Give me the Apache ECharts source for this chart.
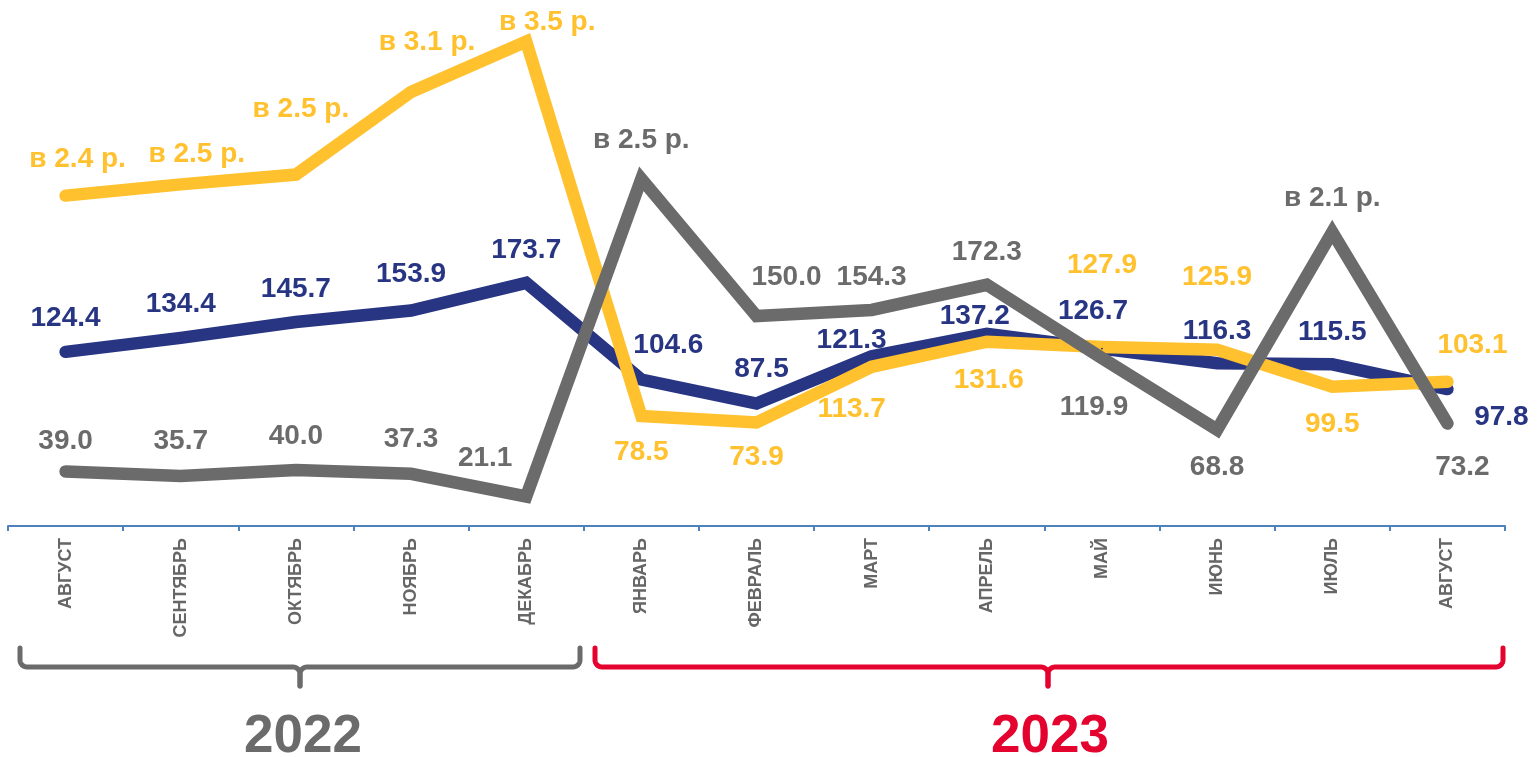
<!DOCTYPE html>
<html>
<head>
<meta charset="utf-8">
<script src="https://cdn.jsdelivr.net/npm/echarts@6/dist/echarts.min.js"></script>
<style>
  html, body { margin: 0; padding: 0; background: #fff; }
  #chart { width: 1539px; height: 757px; }
</style>
</head>
<body>
<div id="chart"></div>
<script>
// months (Aug 2022 - Aug 2023)
const months = ['АВГУСТ', 'СЕНТЯБРЬ', 'ОКТЯБРЬ', 'НОЯБРЬ', 'ДЕКАБРЬ', 'ЯНВАРЬ', 'ФЕВРАЛЬ',
  'МАРТ', 'АПРЕЛЬ', 'МАЙ', 'ИЮНЬ', 'ИЮЛЬ', 'АВГУСТ'];

const navyValues = [124.4, 134.4, 145.7, 153.9, 173.7, 104.6, 87.5, 121.3, 137.2, 126.7, 116.3, 115.5, 97.8];
const yellowValues = [236, 244, 251, 310, 346, 78.5, 73.9, 113.7, 131.6, 127.9, 125.9, 99.5, 103.1];
const grayValues = [39.0, 35.7, 40.0, 37.3, 21.1, 248, 150.0, 154.3, 172.3, 119.9, 68.8, 210, 73.2];

// text labels that replace the number
const yellowText = ['в 2.4 р.', 'в 2.5 р.', 'в 2.5 р.', 'в 3.1 р.', 'в 3.5 р.', null, null, null, null, null, null, null, null];
const grayText = [null, null, null, null, null, 'в 2.5 р.', null, null, null, null, null, 'в 2.1 р.', null];

// label offsets from the point (px)
const navyOff = [[0,-34],[0,-34],[0,-33],[0,-36],[0,-33],[27,-34],[5,-34],[-20,-16],[-12,-18],[-9,-37],[0,-32],[0,-32],[54,28]];
const yellowOff = [[12,-36],[16,-30],[5,-65],[16,-50],[21,-19],[0,36],[0,35],[-20,42],[2,39],[0,-82],[0,-72],[0,38],[25,-36]];
const grayOff = [[0,-30],[0,-35],[0,-34],[0,-34],[-41,-38],[0,-39],[30,-39],[0,-33],[0,-32],[-8,49],[0,38],[0,-34],[15,44]];

const NAVY = '#283583', YELLOW = '#FFC12E', GRAY = '#6B6B6B', RED = '#E4032E';
const FONT = '"Liberation Sans", Arial, sans-serif';

function points(values, texts, offs, color) {
  return values.map((v, i) => ({
    value: v,
    label: {
      show: true,
      position: 'inside',
      offset: offs[i],
      formatter: texts && texts[i] ? texts[i] : v.toFixed(1),
      color: color,
      fontSize: 28,
      fontWeight: 'bold',
      fontFamily: FONT,
      align: 'center',
      verticalAlign: 'middle'
    }
  }));
}

function line(name, values, texts, offs, color) {
  return {
    name: name,
    type: 'line',
    data: points(values, texts, offs, color),
    symbol: 'circle',
    symbolSize: 2,
    itemStyle: { color: color },
    lineStyle: { color: color, width: 12.5, cap: 'round', join: 'miter', miterLimit: 10 },
    emphasis: { disabled: true },
    z: 2
  };
}

// quarter-circle corner points
function corner(cx, cy, r, a0, a1) {
  const pts = [];
  for (let k = 0; k <= 8; k++) {
    const a = a0 + (a1 - a0) * k / 8;
    pts.push([cx + r * Math.cos(a), cy + r * Math.sin(a)]);
  }
  return pts;
}

// curly brace: ends go up at x1/x2, nub goes down at xm
function brace(x1, x2, xm, color) {
  const top = 648, yb = 667, r = 7, nub = 686;
  const P = Math.PI;
  const left = [[x1, top]].concat(
    corner(x1 + r, yb - r, r, P, P / 2),
    corner(xm - r, yb + r, r, -P / 2, 0),
    [[xm, nub]]
  );
  const right = [[x2, top]].concat(
    corner(x2 - r, yb - r, r, 0, P / 2),
    corner(xm + r, yb + r, r, -P / 2, -P),
    [[xm, nub]]
  );
  const st = { fill: null, stroke: color, lineWidth: 5, lineCap: 'round', lineJoin: 'round' };
  return [
    { type: 'polyline', shape: { points: left }, style: st },
    { type: 'polyline', shape: { points: right }, style: st }
  ];
}

const chart = echarts.init(document.getElementById('chart'));
chart.setOption({
  animation: false,
  backgroundColor: '#fff',
  grid: { left: 8, right: 34, top: 36, bottom: 231 },
  xAxis: {
    type: 'category',
    data: months,
    boundaryGap: true,
    axisLine: { lineStyle: { color: '#4F81BD', width: 2 } },
    axisTick: { show: true, length: 5, lineStyle: { color: '#4F81BD', width: 2 } },
    axisLabel: {
      rotate: 90,
      margin: 12,
      color: '#666666',
      fontSize: 18,
      fontWeight: 'bold',
      fontFamily: FONT,
      interval: 0
    }
  },
  yAxis: { type: 'value', min: 0, max: 350, show: false, splitLine: { show: false } },
  series: [
    line('navy', navyValues, null, navyOff, NAVY),
    line('yellow', yellowValues, yellowText, yellowOff, YELLOW),
    line('gray', grayValues, grayText, grayOff, GRAY)
  ],
  graphic: brace(20, 580, 300, GRAY).concat(brace(595, 1503, 1048, RED), [
    { type: 'text', x: 303, y: 737, style: { text: '2022', fill: GRAY, font: 'bold 53px ' + FONT, align: 'center', verticalAlign: 'middle' } },
    { type: 'text', x: 1050, y: 737, style: { text: '2023', fill: RED, font: 'bold 53px ' + FONT, align: 'center', verticalAlign: 'middle' } }
  ])
});
</script>
</body>
</html>
